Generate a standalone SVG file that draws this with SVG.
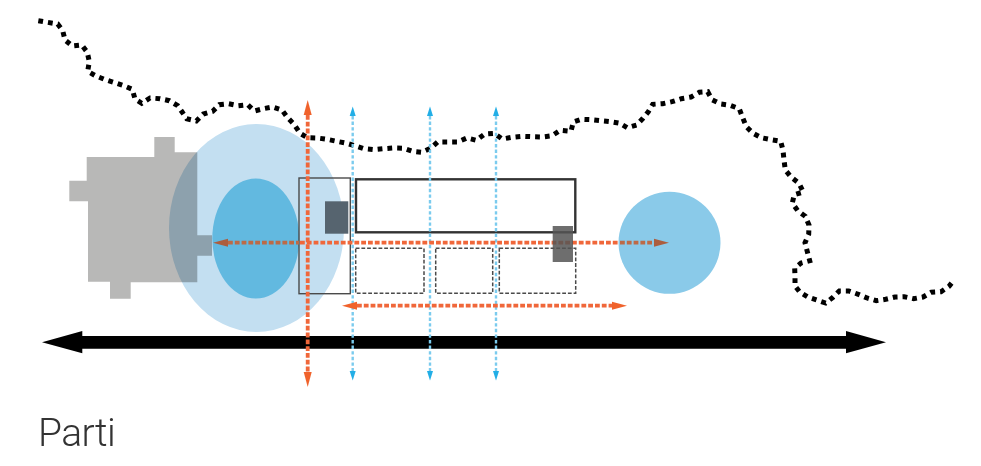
<svg xmlns="http://www.w3.org/2000/svg" width="981" height="466" viewBox="0 0 981 466">
<style>
.o{fill:none;stroke:#f0673a;stroke-width:3.8;stroke-dasharray:4.8 2}
.ob{fill:none;stroke:#bd6a47;stroke-width:3.8;stroke-dasharray:4.8 2}
.b{fill:none;stroke:#7bcbee;stroke-width:2.4;stroke-dasharray:3.4 2.2}
.z{fill:none;stroke:#4a4a4a;stroke-width:1.5;stroke-dasharray:3.8 1.9}
text{font-family:Roboto,"Liberation Sans",sans-serif;font-weight:300;font-size:39px;letter-spacing:-.6px;font-variant-ligatures:none;fill:#333}
</style>
<defs>
<marker id="ho" markerUnits="userSpaceOnUse" markerWidth="16" markerHeight="10" refX="0" refY="5" orient="auto-start-reverse"><path d="M0 1L15 5L0 9Z" fill="#f0622b"/></marker>
<marker id="hbr" markerUnits="userSpaceOnUse" markerWidth="16" markerHeight="10" refX="0" refY="5" orient="auto-start-reverse"><path d="M0 1L15 5L0 9Z" fill="#ac5d3e"/></marker>
<marker id="hb" markerUnits="userSpaceOnUse" markerWidth="10" markerHeight="8" refX="0" refY="4" orient="auto-start-reverse"><path d="M0 1L9.5 4L0 7Z" fill="#22aee6"/></marker>
</defs>
<g id="site-boundary"><polyline fill="none" stroke="#000" stroke-width="5" stroke-dasharray="4.8 5" points="38.3,20.7 47.3,22.3 57.7,24 62.7,30.7 65,40 72.3,46 81.7,45 87.3,52.3 89.3,61.7 87.7,71.3 96,76 105.3,79.7 114.7,82.7 123.7,85.7 132.3,89.3 135,99 141.7,103.3 150,98 160,98.7 169.3,100.7 177.7,105.7 182.3,112.3 186.7,118.7 196.3,121 203.3,114 212.7,111.3 219.3,104.7 228.7,103.7 238.3,105.7 247.7,104.7 254.3,111 263.3,108.7 272.7,107 282,110 287.3,117.3 294.3,124.7 300,133.3 307.3,137.7 317.3,138 327,139.3 336.7,141.3 346.7,143.3 355,145.7 364,148.7 374,149.7 383.7,148.7 393.3,148 403.3,148.3 412.3,151.3 421.7,152.3 430.7,148.3 437.7,142 447.7,142 457.7,142 467,138 476.3,140.3 484.7,134 494.3,133.3 502.3,139 512,137.3 522.3,136.3 532.3,136.7 542.3,137 552,135.7 560.3,130.3 571,131.3 573.3,122 581.7,119.3 591.7,119.7 601,120.7 610.7,121.7 619.7,123.3 627.3,127.7 636.7,125 643,118.3 648.3,111.7 652.7,104.3 662.7,103.7 672,101.7 681.3,98.7 691,97 699.3,92.3 707.7,91.7 712,99.7 720.7,104 730.3,105.3 739.3,108.7 742.7,117.7 746.3,126.7 753,133.3 761.3,137.7 771,139.7 780.7,141.3 783,150.3 784,160 785.3,170 791,177 799,183.3 803.3,192 794.3,194.7 792.3,203 797.7,210.7 805.3,216.3 809,225 808.7,234.3 805,242.7 807.3,251.7 809.7,260.7 801,263 794.7,268.3 795,277 795,286 800,292.3 807.7,297 816.7,300 825.7,303 833,297.3 839.3,291 848.7,291 858.3,294.3 867,298 876.3,300.7 885.7,299.3 895,297 904.3,296.7 913.7,298.7 923,297 931.3,292.3 941,291.7 949,286.3 954,280"/></g>
<g id="existing-building"><polygon fill="#b8b8b7" points="69.3,180.7 86.7,180.7 86.7,157 154.3,157 154.3,137 174.7,137 174.7,152.3 197.3,152.3 197.3,235.3 212,235.3 212,255.7 197.3,255.7 197.3,282.3 130.7,282.3 130.7,298.7 110,298.7 110,281.7 88,281.7 88,201.3 69.3,201.3"/></g>
<g id="outer-zone"><ellipse cx="256.5" cy="228" rx="87.5" ry="104" fill="#c3dff1" style="mix-blend-mode:multiply"/></g>
<g id="inner-zone"><ellipse cx="255.8" cy="238.5" rx="43.5" ry="60" fill="#62b9e0"/></g>
<g id="right-circle"><circle cx="669.5" cy="242.8" r="51" fill="#8acae9"/></g>
<g id="entry-block"><rect x="299" y="178" width="51.3" height="115.7" fill="none" stroke="#4a4a4a" stroke-width="1.4"/></g>
<g id="core-left"><rect x="325" y="201.3" width="23.3" height="32.4" fill="#56646f"/></g>
<g id="main-block"><rect x="356" y="179.3" width="219.3" height="53" fill="none" stroke="#333" stroke-width="2.4"/></g>
<g id="dashed-1"><rect class="z" x="355.7" y="248.3" width="68.3" height="45"/></g>
<g id="dashed-2"><rect class="z" x="435.7" y="248.3" width="57" height="45"/></g>
<g id="dashed-3"><rect class="z" x="499.3" y="248.3" width="76.4" height="45"/></g>
<g id="connectors">
<polygon fill="#000" points="42,342.3 82.3,331 82.3,336 846,336 846,331 886,342.3 846,353.3 846,348.7 82.3,348.7 82.3,353.3"/>
<line class="o" x1="307.7" y1="115" x2="307.7" y2="372" marker-start="url(#ho)" marker-end="url(#ho)"/>
<line class="b" x1="352.7" y1="116" x2="352.7" y2="371" marker-start="url(#hb)" marker-end="url(#hb)"/>
<line class="b" x1="430" y1="116" x2="430" y2="371" marker-start="url(#hb)" marker-end="url(#hb)"/>
<line class="b" x1="496" y1="116" x2="496" y2="371" marker-start="url(#hb)" marker-end="url(#hb)"/>
<line class="ob" x1="228" y1="242.7" x2="299" y2="242.7" marker-start="url(#hbr)"/>
<line class="o" x1="300" y1="242.7" x2="619" y2="242.7"/>
<line class="ob" x1="620" y1="242.7" x2="654" y2="242.7" marker-end="url(#hbr)"/>
<line class="o" x1="357" y1="305.7" x2="612" y2="305.7" marker-start="url(#ho)" marker-end="url(#ho)"/>
</g>
<g id="core-right"><rect x="552.7" y="226" width="20.3" height="36" fill="#555" fill-opacity=".85"/></g>
<text x="38" y="446">Parti</text>
</svg>
